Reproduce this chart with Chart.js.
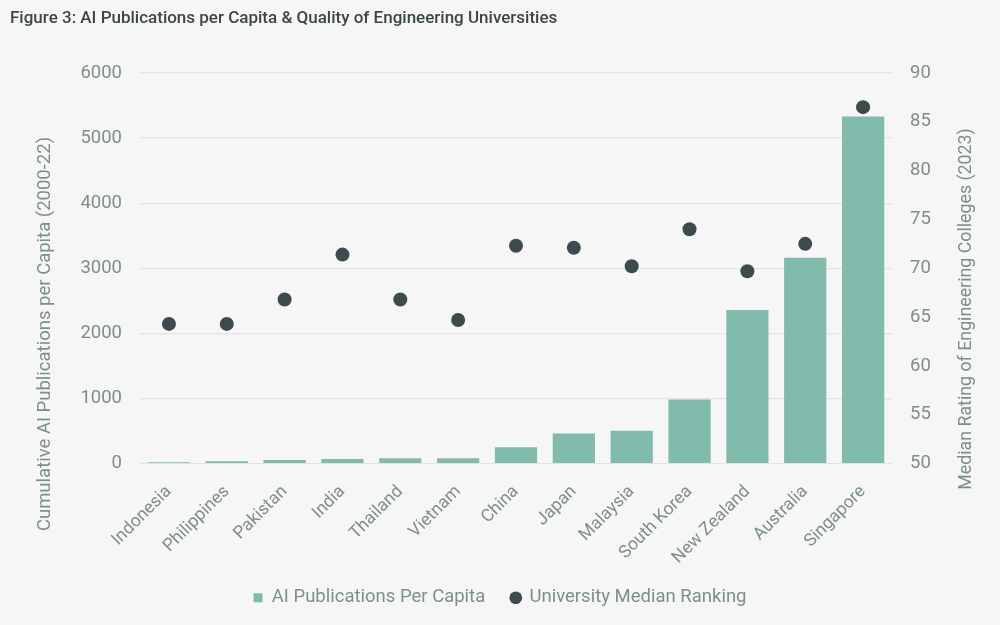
<!DOCTYPE html>
<html>
<head>
<meta charset="utf-8">
<script src="https://cdn.jsdelivr.net/npm/chart.js@4"></script>
<style>
html,body{margin:0;padding:0;background:#f6f6f6;}
#wrap{width:1000px;height:625px;position:relative;}
</style>
</head>
<body>
<div id="wrap"><canvas id="c"></canvas></div>
<script>
const countries = ["Indonesia","Philippines","Pakistan","India","Thailand","Vietnam","China","Japan","Malaysia","South Korea","New Zealand","Australia","Singapore"];
const aiPublications = [18, 35, 55, 70, 80, 80, 250, 460, 505, 985, 2360, 3160, 5330];
const universityRanking = [64.3, 64.3, 66.8, 71.4, 66.8, 64.7, 72.3, 72.1, 70.2, 74.0, 69.7, 72.5, 86.5];
const leftTicks = [0, 1000, 2000, 3000, 4000, 5000, 6000];
const rightTicks = [50, 55, 60, 65, 70, 75, 80, 85, 90];

const titleText = "Figure 3: AI Publications per Capita & Quality of Engineering Universities";
const leftTitle = "Cumulative AI Publications per Capita (2000-22)";
const rightTitle = "Median Rating of Engineering Colleges (2023)";

const FONT = "Roboto";
const TXT = "#7d8e8f";
const BAR = "#80bbab";
const DOT = "#3e4b4e";

const textPlugin = {
  id: 'textPlugin',
  beforeDraw(chart) {
    const ctx = chart.ctx;
    ctx.save();
    ctx.fillStyle = '#f6f6f6';
    ctx.fillRect(0, 0, chart.width, chart.height);
    ctx.restore();
  },
  afterDraw(chart) {
    const ctx = chart.ctx;
    ctx.save();
    ctx.fillStyle = '#3b4649';
    ctx.font = `500 17px ${FONT}`;
    ctx.textBaseline = 'middle';
    ctx.textAlign = 'left';
    ctx.fillText(titleText, 10, 19);
    ctx.fillStyle = TXT;
    ctx.font = `18.5px ${FONT}`;
    ctx.textAlign = 'center';
    ctx.translate(45, 334);
    ctx.rotate(-Math.PI / 2);
    ctx.fillText(leftTitle, 0, 0);
    ctx.restore();
    ctx.save();
    ctx.fillStyle = TXT;
    ctx.font = `17.8px ${FONT}`;
    ctx.textAlign = 'center';
    ctx.textBaseline = 'middle';
    ctx.translate(967, 309);
    ctx.rotate(-Math.PI / 2);
    ctx.fillText(rightTitle, 0, 0);
    ctx.restore();
  }
};

new Chart(document.getElementById('c'), {
  data: {
    labels: countries,
    datasets: [
      {
        type: 'bar',
        label: 'AI Publications Per Capita',
        data: aiPublications,
        backgroundColor: BAR,
        borderWidth: 0,
        yAxisID: 'y',
        barPercentage: 0.73,
        categoryPercentage: 1.0,
        pointStyle: 'rect'
      },
      {
        type: 'line',
        label: 'University Median Ranking',
        data: universityRanking,
        showLine: false,
        pointStyle: 'circle',
        pointRadius: 7,
        pointHoverRadius: 7,
        pointBackgroundColor: DOT,
        pointBorderColor: DOT,
        pointBorderWidth: 0,
        backgroundColor: DOT,
        borderColor: DOT,
        borderWidth: 0,
        yAxisID: 'y1'
      }
    ]
  },
  options: {
    responsive: true,
    maintainAspectRatio: false,
    animation: false,
    layout: { padding: { top: 73, bottom: 8, left: 0, right: 0 } },
    plugins: {
      title: { display: false },
      tooltip: { enabled: false },
      legend: {
        position: 'bottom',
        labels: {
          usePointStyle: true,
          boxWidth: 9,
          boxHeight: 9,
          color: TXT,
          font: { family: FONT, size: 18.5 },
          padding: 26
        }
      }
    },
    scales: {
      x: {
        grid: { display: false },
        border: { display: false },
        ticks: {
          color: TXT,
          font: { family: FONT, size: 17.5 },
          maxRotation: 45,
          minRotation: 45,
          padding: 10
        },
        afterFit(scale) { scale.height = 99; }
      },
      y: {
        position: 'left',
        min: 0,
        max: 6000,
        afterBuildTicks(scale) { scale.ticks = leftTicks.map(v => ({ value: v })); },
        grid: { color: '#e2e3e3', lineWidth: 1.2, drawTicks: false },
        border: { display: false },
        ticks: {
          color: TXT,
          font: { family: FONT, size: 18.5 },
          padding: 18,
          callback: (v) => String(v)
        },
        afterFit(scale) { scale.width = 140; }
      },
      y1: {
        position: 'right',
        min: 50,
        max: 90,
        afterBuildTicks(scale) { scale.ticks = rightTicks.map(v => ({ value: v })); },
        grid: { display: false, drawTicks: false },
        border: { display: false },
        ticks: {
          color: TXT,
          font: { family: FONT, size: 18.5 },
          padding: 18,
          callback: (v) => String(v)
        },
        afterFit(scale) { scale.width = 108; }
      }
    }
  },
  plugins: [textPlugin]
});
</script>
</body>
</html>
